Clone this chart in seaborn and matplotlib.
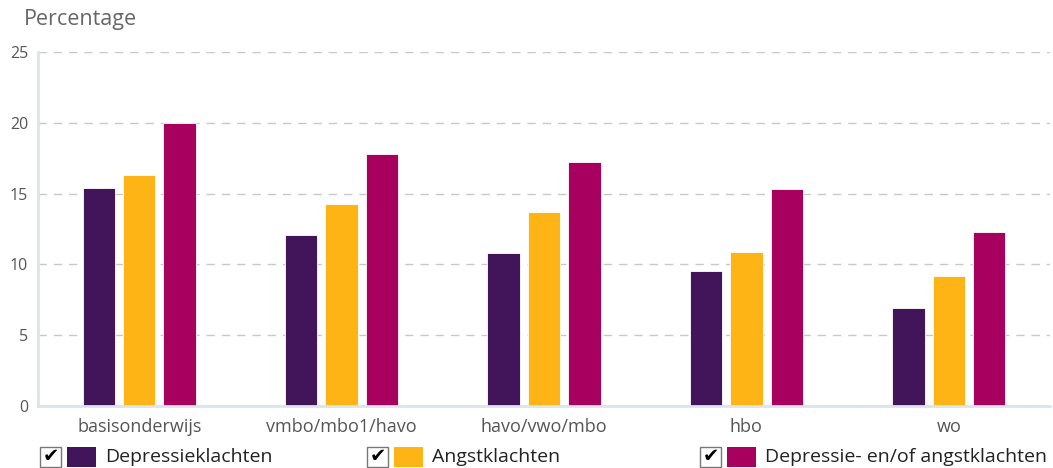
import pandas as pd
import matplotlib.pyplot as plt
import seaborn as sns
from matplotlib.patches import Rectangle

# data
niveaus = ['basisonderwijs', 'vmbo/mbo1/havo', 'havo/vwo/mbo', 'hbo', 'wo']
reeksen = ['Depressieklachten', 'Angstklachten', 'Depressie- en/of angstklachten']
depressie = [15.4, 12.1, 10.8, 9.5, 6.9]
angst = [16.3, 14.3, 13.7, 10.9, 9.2]
beide = [20.0, 17.8, 17.2, 15.3, 12.3]
kleuren = ['#42155a', '#fdb414', '#a8005e']
yticks = [0, 5, 10, 15, 20, 25]

df = pd.DataFrame({'niveau': niveaus * 3,
                   'reeks': [r for r in reeksen for _ in niveaus],
                   'waarde': depressie + angst + beide})

sns.set_style('white')
plt.rcParams['font.family'] = ['Open Sans', 'DejaVu Sans']

fig = plt.figure(figsize=(10.53, 4.68), dpi=100)
ax = fig.add_axes([38/1053, 1 - 406/468, 1012/1053, 354/468])

sns.barplot(data=df, x='niveau', y='waarde', hue='reeks', palette=kleuren,
            width=0.6, gap=0.2, saturation=1, legend=False, ax=ax,
            edgecolor='white', linewidth=0.6)

ax.set_xlim(-0.5, 4.5)
ax.set_ylim(0, 25)
ax.set_yticks(yticks)
ax.set_yticklabels([str(t) for t in yticks], color='#555555', fontsize=11.5)
ax.tick_params(axis='y', length=0, pad=7)
ax.tick_params(axis='x', which='major', length=0, pad=9, labelsize=13, labelcolor='#555555')
ax.set_xticks([0.5, 1.5, 2.5, 3.5], minor=True)
ax.tick_params(axis='x', which='minor', length=10, width=1.5, color='#dde3ec')
ax.set_xlabel('')
ax.set_ylabel('')
ax.grid(axis='y', color='#c8c8c8', linestyle=(0, (6, 5)), linewidth=1)
ax.set_axisbelow(True)
for s in ['top', 'right']:
    ax.spines[s].set_visible(False)
for s in ['left', 'bottom']:
    ax.spines[s].set_color('#dde3ec')
    ax.spines[s].set_linewidth(2)

fig.text(24/1053, 1 - 20/468, 'Percentage', fontsize=15.5, color='#666666', va='center')

# legend with check boxes, drawn by hand
legend_x = [40, 367, 700]
yc = 1 - 457/468
for x0, naam, kleur in zip(legend_x, reeksen, kleuren):
    fig.patches.append(Rectangle((x0/1053, yc - 10/468), 21/1053, 20/468,
                                 transform=fig.transFigure, facecolor='white',
                                 edgecolor='#777777', linewidth=1))
    fig.text((x0 + 11)/1053, yc, '\u2714', fontsize=14, color='black',
             ha='center', va='center', family='DejaVu Sans')
    fig.patches.append(Rectangle(((x0 + 27)/1053, yc - 10/468), 29/1053, 20/468,
                                 transform=fig.transFigure, facecolor=kleur,
                                 edgecolor='none'))
    fig.text((x0 + 65)/1053, yc, naam, fontsize=14, color='#222222', va='center')

fig.savefig('out.png', dpi=100)
